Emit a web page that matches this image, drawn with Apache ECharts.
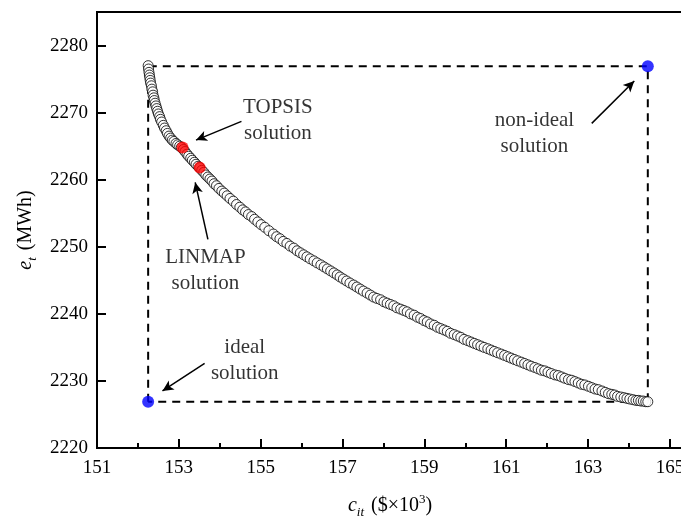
<!DOCTYPE html>
<html>
<head>
<meta charset="utf-8">
<script src="https://cdn.jsdelivr.net/npm/echarts@6/dist/echarts.min.js"></script>
<style>
  html, body { margin: 0; padding: 0; background: #fff; }
  #chart { width: 681px; height: 524px; }
</style>
</head>
<body>
<div id="chart"></div>
<script>
// pareto front: [cost c_it ($x10^3), energy e_t (MWh)]
const pareto = [
  [152.25, 2277.0], [152.26, 2276.5], [152.27, 2276.0], [152.28, 2275.6], [152.29, 2275.2],
  [152.30, 2274.8], [152.31, 2274.4], [152.33, 2274.0], [152.34, 2273.5], [152.36, 2273.1],
  [152.37, 2272.6], [152.39, 2272.2], [152.40, 2271.8], [152.42, 2271.4], [152.44, 2271.0],
  [152.46, 2270.6], [152.48, 2270.2], [152.50, 2269.8], [152.53, 2269.4], [152.55, 2269.0],
  [152.58, 2268.6], [152.62, 2268.1], [152.65, 2267.7], [152.69, 2267.3], [152.72, 2266.9],
  [152.76, 2266.5], [152.80, 2266.2], [152.84, 2265.9], [152.88, 2265.7], [152.93, 2265.4],
  [152.97, 2265.2], [153.02, 2265.0], [153.06, 2264.8], [153.11, 2264.5], [153.15, 2264.2],
  [153.20, 2263.8], [153.24, 2263.5], [153.29, 2263.2], [153.33, 2262.9], [153.38, 2262.6],
  [153.42, 2262.3], [153.47, 2262.0], [153.51, 2261.8], [153.56, 2261.4], [153.61, 2261.1],
  [153.66, 2260.7], [153.71, 2260.4], [153.76, 2260.1], [153.81, 2259.8], [153.86, 2259.4],
  [153.92, 2259.1], [153.98, 2258.7], [154.05, 2258.3], [154.11, 2258.0], [154.18, 2257.6],
  [154.25, 2257.2], [154.33, 2256.8], [154.41, 2256.3], [154.49, 2255.9], [154.56, 2255.5],
  [154.63, 2255.2], [154.70, 2254.8], [154.78, 2254.5], [154.85, 2254.1], [154.93, 2253.7],
  [155.01, 2253.3], [155.10, 2252.9], [155.20, 2252.4], [155.31, 2251.9], [155.39, 2251.5],
  [155.47, 2251.2], [155.55, 2250.8], [155.64, 2250.5], [155.72, 2250.1], [155.81, 2249.8],
  [155.89, 2249.4], [155.97, 2249.1], [156.05, 2248.8], [156.13, 2248.5], [156.21, 2248.2],
  [156.30, 2247.9], [156.38, 2247.6], [156.47, 2247.3], [156.55, 2247.0], [156.63, 2246.7],
  [156.71, 2246.4], [156.79, 2246.1], [156.87, 2245.8], [156.94, 2245.5], [157.02, 2245.2],
  [157.10, 2244.9], [157.18, 2244.6], [157.27, 2244.3], [157.35, 2244.0], [157.43, 2243.7],
  [157.51, 2243.4], [157.60, 2243.1], [157.68, 2242.8], [157.76, 2242.5], [157.84, 2242.3],
  [157.93, 2242.1], [158.01, 2241.8], [158.09, 2241.6], [158.17, 2241.4], [158.25, 2241.2],
  [158.33, 2240.9], [158.42, 2240.7], [158.50, 2240.5], [158.58, 2240.3], [158.66, 2240.0],
  [158.75, 2239.8], [158.83, 2239.5], [158.91, 2239.3], [158.99, 2239.0], [159.07, 2238.8],
  [159.15, 2238.5], [159.24, 2238.3], [159.32, 2238.0], [159.40, 2237.8], [159.48, 2237.6],
  [159.56, 2237.4], [159.64, 2237.1], [159.73, 2236.9], [159.81, 2236.7], [159.89, 2236.5],
  [159.97, 2236.2], [160.06, 2236.0], [160.14, 2235.8], [160.22, 2235.6], [160.30, 2235.4],
  [160.38, 2235.2], [160.46, 2235.0], [160.55, 2234.8], [160.63, 2234.6], [160.71, 2234.4],
  [160.79, 2234.2], [160.88, 2234.0], [160.96, 2233.8], [161.04, 2233.6], [161.12, 2233.4],
  [161.20, 2233.2], [161.28, 2233.0], [161.37, 2232.8], [161.45, 2232.6], [161.53, 2232.4],
  [161.61, 2232.2], [161.70, 2232.0], [161.78, 2231.8], [161.86, 2231.6], [161.94, 2231.5],
  [162.02, 2231.3], [162.10, 2231.1], [162.19, 2230.9], [162.27, 2230.8], [162.35, 2230.6],
  [162.43, 2230.4], [162.52, 2230.2], [162.60, 2230.1], [162.68, 2229.9], [162.76, 2229.7],
  [162.84, 2229.5], [162.92, 2229.4], [163.01, 2229.2], [163.09, 2229.0], [163.17, 2228.8],
  [163.25, 2228.7], [163.34, 2228.5], [163.42, 2228.3], [163.50, 2228.1], [163.58, 2228.0],
  [163.65, 2227.9], [163.72, 2227.7], [163.80, 2227.6], [163.88, 2227.5], [163.95, 2227.4],
  [164.02, 2227.3], [164.10, 2227.2], [164.17, 2227.1], [164.23, 2227.1], [164.29, 2227.0],
  [164.35, 2227.0], [164.41, 2226.9], [164.46, 2226.9]
];
const idealPoint = [152.25, 2226.9];
const nonIdealPoint = [164.46, 2276.9];
const topsisPoint = [153.09, 2264.8];
const linmapPoint = [153.51, 2261.8];

// annotation text positions and arrows (tail -> head), data coords
const noteTexts = [
  { name: 'TOPSIS\nsolution', value: [155.42, 2268.8] },
  { name: 'LINMAP\nsolution', value: [153.65, 2246.5] },
  { name: 'ideal\nsolution', value: [154.61, 2233.1] },
  { name: 'non-ideal\nsolution', value: [161.69, 2266.9] }
];
const noteArrows = [
  [[154.53, 2268.7], [153.42, 2265.9]],
  [[153.71, 2251.1], [153.40, 2259.6]],
  [[153.63, 2232.6], [152.60, 2228.5]],
  [[163.09, 2268.4], [164.13, 2274.7]]
];

const xTicks = { min: 151, max: 165.32, interval: 2 };
const yTicks = { min: 2220, max: 2285, interval: 10 };

const serif = '"Liberation Serif", "DejaVu Serif", serif';

// dashed box joining ideal / non-ideal corners
const box = [
  [idealPoint[0], idealPoint[1]],
  [idealPoint[0], nonIdealPoint[1]],
  [nonIdealPoint[0], nonIdealPoint[1]],
  [nonIdealPoint[0], idealPoint[1]],
  [idealPoint[0], idealPoint[1]]
];

const chart = echarts.init(document.getElementById('chart'));

const option = {
  animation: false,
  backgroundColor: '#fff',
  grid: {
    left: 97, top: 12, right: -2, bottom: 76,
    outerBoundsMode: 'none',
    containLabel: false,
    show: true, borderColor: '#000', borderWidth: 2
  },
  xAxis: {
    type: 'value',
    min: xTicks.min, max: xTicks.max, interval: xTicks.interval,
    name: '{i|c}{sub|it} ($×10{sup|3})',
    nameLocation: 'middle',
    nameGap: 44,
    nameTextStyle: {
      fontFamily: serif, fontSize: 20, color: '#000',
      rich: {
        i: { fontFamily: serif, fontStyle: 'italic', fontSize: 20 },
        sub: { fontFamily: serif, fontStyle: 'italic', fontSize: 13, padding: [14, 2, 0, 0] },
        sup: { fontFamily: serif, fontSize: 13, padding: [0, 0, 12, 0] }
      }
    },
    axisLine: { lineStyle: { color: '#000', width: 2 } },
    axisTick: { inside: true, length: 9, lineStyle: { color: '#000', width: 2 } },
    minorTick: { show: true, splitNumber: 2, length: 5, lineStyle: { color: '#000', width: 2 } },
    axisLabel: { fontFamily: serif, fontSize: 19, color: '#000', margin: 11, showMaxLabel: false },
    splitLine: { show: false }
  },
  yAxis: {
    type: 'value',
    min: yTicks.min, max: yTicks.max, interval: yTicks.interval,
    name: '{i|e}{sub|t} (MWh)',
    nameLocation: 'middle',
    nameGap: 54,
    nameTextStyle: {
      fontFamily: serif, fontSize: 20, color: '#000',
      rich: {
        i: { fontFamily: serif, fontStyle: 'italic', fontSize: 20 },
        sub: { fontFamily: serif, fontStyle: 'italic', fontSize: 13, padding: [14, 2, 0, 0] }
      }
    },
    axisLine: { lineStyle: { color: '#000', width: 2 } },
    axisTick: { inside: true, length: 9, lineStyle: { color: '#000', width: 2 } },
    axisLabel: {
      fontFamily: serif, fontSize: 19, color: '#000', margin: 9, showMaxLabel: false,
      formatter: v => String(v)
    },
    splitLine: { show: false }
  },
  series: [
    {
      name: 'box',
      type: 'line',
      data: box,
      showSymbol: false,
      z: 1,
      lineStyle: { color: '#000', width: 2, type: [8, 6] },
      markLine: {
        silent: true,
        symbol: ['none', 'arrow'],
        symbolSize: [8, 11],
        label: { show: false },
        lineStyle: { color: '#000', width: 1.5, type: 'solid' },
        data: noteArrows.map(a => [{ coord: a[0] }, { coord: a[1] }])
      }
    },
    {
      name: 'pareto',
      type: 'scatter',
      data: pareto,
      symbol: 'circle',
      symbolSize: 10,
      z: 3,
      itemStyle: { color: '#fff', borderColor: '#000', borderWidth: 1 }
    },
    {
      name: 'decisions',
      type: 'scatter',
      data: [topsisPoint, linmapPoint],
      symbolSize: 12,
      z: 4,
      itemStyle: { color: '#ff0000' }
    },
    {
      name: 'ideal',
      type: 'scatter',
      data: [idealPoint, nonIdealPoint],
      symbolSize: 12,
      z: 4,
      itemStyle: { color: '#0000ff' }
    },
    {
      name: 'notes',
      type: 'scatter',
      data: noteTexts,
      symbolSize: 0,
      z: 5,
      label: {
        show: true,
        position: 'inside',
        formatter: p => p.name,
        fontFamily: serif,
        fontSize: 21,
        lineHeight: 26,
        color: '#000',
        align: 'center'
      }
    }
  ]
};

chart.setOption(option);
</script>
</body>
</html>
